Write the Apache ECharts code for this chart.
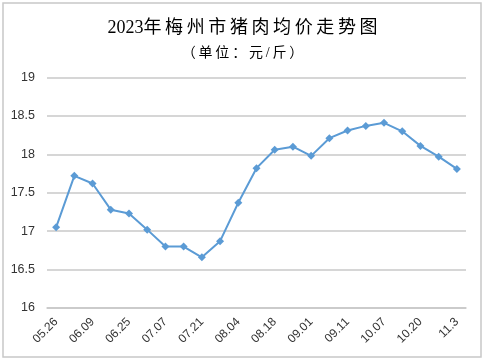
<!DOCTYPE html>
<html><head><meta charset="utf-8">
<script src="https://cdn.jsdelivr.net/npm/echarts@6/dist/echarts.min.js"></script>
<style>html,body{margin:0;padding:0;background:#fff}#c{width:485px;height:361px}</style>
</head><body><div id="c"></div>
<script>
const categories = ['05.26','06.02','06.09','06.16','06.25','06.30','07.07','07.14','07.21','07.28','08.04','08.11','08.18','08.25','09.01','09.06','09.11','09.22','10.07','10.13','10.20','10.27','11.3'];
const prices = [17.05,17.72,17.62,17.28,17.23,17.02,16.80,16.80,16.66,16.87,17.37,17.82,18.06,18.10,17.98,18.21,18.31,18.37,18.41,18.30,18.11,17.97,17.81];
const yTicks = {min:16, max:19, interval:0.5};
const titleYear = '2023';
const titleText = '年梅州市猪肉均价走势图';
const subText = '（单位：元/斤）';

const spaced = s => s.split('').join('\u2009');
const chart = echarts.init(document.getElementById('c'));
chart.setOption({
  animation:false,
  backgroundColor:'#fff',
  graphic:[{type:'rect',shape:{x:3,y:3,width:478,height:354},style:{fill:'none',stroke:'#c8c8c8',lineWidth:1.5},silent:true}],
  title:[{text:titleYear + spaced(titleText),left:'center',top:14,textStyle:{fontFamily:'Liberation Serif, Noto Sans CJK SC',fontSize:18,fontWeight:'normal',color:'#000'}},
         {text:spaced(subText),left:'center',top:41,textStyle:{fontFamily:'Liberation Serif, Noto Sans CJK SC',fontSize:14,fontWeight:'normal',color:'#000'}}],
  grid:{left:47,right:19,top:77.5,bottom:53},
  xAxis:{type:'category',data:categories,boundaryGap:true,
    axisLine:{show:true,lineStyle:{color:'#c8c8c8',width:1.5}},axisTick:{show:false},
    axisLabel:{interval:1,rotate:45,margin:12,fontFamily:'Liberation Sans',fontSize:12,color:'#333'}},
  yAxis:{type:'value',min:yTicks.min,max:yTicks.max,interval:yTicks.interval,
    axisLine:{show:false},axisTick:{show:false},
    splitLine:{lineStyle:{color:'#c8c8c8',width:1.5}},
    axisLabel:{margin:12,fontFamily:'Liberation Sans',fontSize:12.5,color:'#333'}},
  series:[{type:'line',data:prices,symbol:'diamond',symbolSize:8,
    lineStyle:{color:'#5b9bd5',width:2},itemStyle:{color:'#5b9bd5'}}]
});
</script></body></html>
